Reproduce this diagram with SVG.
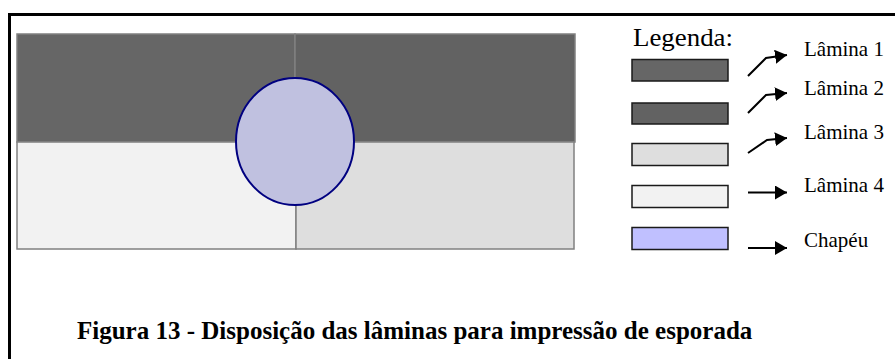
<svg xmlns="http://www.w3.org/2000/svg" width="895" height="359" viewBox="0 0 895 359">
  <style>
    .lam { stroke: #808080; stroke-width: 1.5; }
    .leg { stroke: #1a1a1a; stroke-width: 1.5; }
    .lbl { font-family: "Liberation Serif", "Times New Roman", serif; font-size: 21px; fill: #000; }
    .conn { stroke: #000; stroke-width: 2; fill: none; marker-end: url(#ah); }
  </style>
  <defs>
    <marker id="ah" viewBox="0 0 12 14" refX="12" refY="7" markerWidth="12" markerHeight="14" markerUnits="userSpaceOnUse" orient="auto">
      <path d="M0,0 L12,7 L0,14 Z" fill="#000"/>
    </marker>
  </defs>
  <rect width="895" height="359" fill="#fff"/>
  <path d="M9.5,359 V14.5 H895" fill="none" stroke="#000" stroke-width="3"/>

  <g id="lamina1"><rect class="lam" x="17" y="34" width="278" height="108" fill="#666666"/></g>
  <g id="lamina2"><rect class="lam" x="295" y="34" width="280" height="108" fill="#626262"/></g>
  <g id="lamina4"><rect class="lam" x="17" y="142" width="279" height="107" fill="#f2f2f2"/></g>
  <g id="lamina3"><rect class="lam" x="296" y="142" width="278" height="107" fill="#dedede"/></g>
  <g id="chapeu"><ellipse cx="295" cy="141.5" rx="59" ry="63.5" fill="#c0c1e0" stroke="#000080" stroke-width="2"/></g>

  <g id="legenda">
    <text x="633" y="46" class="lbl" style="font-size:26px" textLength="100" lengthAdjust="spacingAndGlyphs">Legenda:</text>
  </g>
  <g id="leg1"><rect class="leg" x="632" y="59.5" width="96" height="21.5" fill="#666666"/><text class="lbl" x="804" y="56">Lâmina 1</text></g>
  <g id="leg2"><rect class="leg" x="632" y="103" width="96" height="21" fill="#626262"/><text class="lbl" x="804" y="95">Lâmina 2</text></g>
  <g id="leg3"><rect class="leg" x="632" y="143.5" width="96" height="22" fill="#dedede"/><text class="lbl" x="804" y="139">Lâmina 3</text></g>
  <g id="leg4"><rect class="leg" x="632" y="185.5" width="96" height="22" fill="#f2f2f2"/><text class="lbl" x="804" y="192">Lâmina 4</text></g>
  <g id="leg5"><rect class="leg" x="632" y="227.5" width="96" height="22" fill="#c0c0ff"/><text class="lbl" x="804" y="247">Chapéu</text></g>

  <g id="connectors">
    <path class="conn" d="M748,76 L766,58 L787,55"/>
    <path class="conn" d="M748,113 L766,95 L787,93"/>
    <path class="conn" d="M748,153 L767,140 L787,138"/>
    <path class="conn" d="M748,192.5 L787,192.5"/>
    <path class="conn" d="M748,248 L787,248"/>
  </g>

  <text x="77" y="339" font-family="Liberation Serif, 'Times New Roman', serif" font-weight="bold" font-size="25" fill="#000">Figura 13 - Disposição das lâminas para impressão de esporada</text>
</svg>
